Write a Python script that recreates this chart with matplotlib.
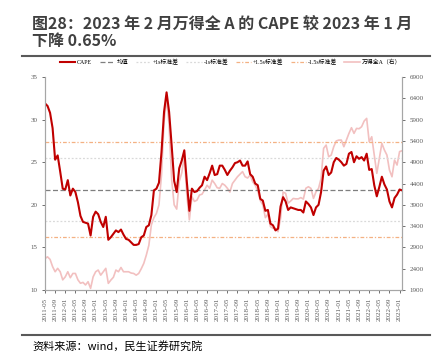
import matplotlib
matplotlib.use("Agg")
import matplotlib.pyplot as plt

plt.rcParams['font.family'] = ['Liberation Serif', 'Noto Sans CJK SC', 'DejaVu Sans']

# monthly data, 2011-05 .. 2023-02
months = []
y, m = 2011, 5
for _ in range(142):
    months.append(f"{y}-{m:02d}")
    m += 1
    if m > 12:
        m = 1
        y += 1

cape = [31.9, 31.6, 30.8, 29.0, 25.3, 25.8, 23.9, 21.9, 21.8, 22.9,
        21.1, 21.9, 21.5, 20.3, 18.7, 18.0, 17.9, 17.8, 16.4, 18.6,
        19.2, 18.9, 18.0, 17.4, 18.6, 15.9, 16.2, 16.6, 17.0, 16.8,
        17.1, 16.5, 16.0, 15.9, 15.6, 15.3, 15.3, 15.4, 16.2, 16.4,
        17.4, 17.6, 18.8, 21.7, 21.9, 22.6, 26.2, 30.9, 33.2, 30.9,
        27.0, 22.8, 21.5, 24.3, 25.2, 26.4, 22.7, 19.3, 21.9, 21.5,
        21.6, 22.0, 22.3, 23.3, 22.9, 23.7, 24.6, 23.5, 23.6, 24.6,
        24.6, 24.1, 23.5, 24.0, 24.4, 24.9, 25.0, 25.2, 24.6, 24.6,
        25.1, 23.6, 23.3, 22.5, 22.3, 20.7, 20.5, 19.3, 19.4, 17.8,
        17.6, 17.0, 17.2, 19.8, 20.9, 20.4, 19.4, 19.7, 19.6, 19.5,
        19.4, 19.4, 19.1, 20.4, 20.1, 19.7, 18.8, 19.7, 20.0, 21.5,
        24.0, 24.5, 23.5, 23.8, 25.0, 25.5, 25.3, 25.0, 24.6, 24.8,
        26.0, 26.2, 25.0, 25.7, 25.4, 25.6, 25.2, 26.0, 24.1, 24.2,
        22.3, 21.0, 22.1, 23.3, 22.4, 21.8, 20.4, 19.7, 20.8, 21.2,
        21.8, 21.7]

wind_a = [2640, 2680, 2620, 2450, 2330, 2410, 2330, 2140, 2210, 2330,
          2190, 2290, 2290, 2140, 2060, 2080, 2020, 2096, 1940, 2210,
          2330, 2370, 2250, 2330, 2410, 2057, 2135, 2200, 2370, 2330,
          2430, 2330, 2330, 2330, 2300, 2290, 2250, 2290, 2400, 2526,
          2720, 2950, 3430, 3600, 3700, 3900, 4600, 5850, 6400, 5770,
          4500, 3900, 3800, 4450, 4650, 5050, 4130, 3550, 4090, 3980,
          4010, 4130, 4150, 4250, 4360, 4290, 4480, 4400, 4300, 4290,
          4400, 4360, 4290, 4200, 4400, 4480, 4560, 4620, 4680, 4560,
          4530, 4600, 4440, 4360, 4230, 4000, 3900, 3600, 3680, 3390,
          3350, 3350, 3270, 3580, 4200, 4170, 3940, 3990, 4050, 4040,
          4040, 4070, 4035, 4290, 4325, 4286, 4051, 4207, 4286, 4520,
          5226, 5303, 5029, 5068, 5264, 5400, 5420, 5420, 5264, 5420,
          5577, 5710, 5577, 5694, 5686, 5733, 5866, 5929, 5381, 5498,
          5068, 4638, 4991, 5342, 5186, 5068, 4716, 4559, 4951, 4834,
          5150, 5170]

cape_mean = 21.8
cape_std = 3.7

x = list(range(len(months)))

fig = plt.figure(figsize=(4.39, 3.59), dpi=100)
ax = fig.add_axes([0.1025, 0.192, 0.8135, 0.5935])
ax2 = ax.twinx()

ax.axhline(cape_mean, color="#7f7f7f", lw=0.9, ls=(0, (4, 2)), label="均值")
ax.axhline(cape_mean + cape_std, color="#d9d9d9", lw=0.9, ls=(0, (1.5, 1.5)), label="+1s标准差")
ax.axhline(cape_mean - cape_std, color="#d9d9d9", lw=0.9, ls=(0, (1.5, 1.5)), label="-1s标准差")
ax.axhline(cape_mean + 1.5 * cape_std, color="#f4b183", lw=0.9, ls=(0, (3, 1.5, 1, 1.5)), label="+1.5s标准差")
ax.axhline(cape_mean - 1.5 * cape_std, color="#f4b183", lw=0.9, ls=(0, (3, 1.5, 1, 1.5)), label="-1.5s标准差")
l2, = ax2.plot(x, wind_a, color="#f2c0c0", lw=1.2, label="万得全A（右）")
l1, = ax.plot(x, cape, color="#c00000", lw=1.5, label="CAPE")
ax.set_zorder(ax2.get_zorder() + 1)
ax.patch.set_visible(False)

ax.set_xlim(0, 141)
ax.set_ylim(10, 35)
ax2.set_ylim(1900, 6900)
ax.set_yticks(range(10, 36, 5))
ax2.set_yticks(range(1900, 6901, 500))
ax.set_xticks(x[::4])
ax.set_xticklabels(months[::4], rotation=90)

for a in (ax, ax2):
    a.tick_params(labelsize=5, length=2, width=0.6, colors="#595959", direction="out")
    for s in a.spines.values():
        s.set_color("#a6a6a6")
        s.set_linewidth(0.8)
    a.spines["top"].set_visible(False)

handles = [l1] + ax.get_lines()[:5] + [l2]
fig.legend(handles, [h.get_label() for h in handles], loc="center",
           bbox_to_anchor=(0.525, 0.828), ncol=7, frameon=False, fontsize=4.2,
           handlelength=2.6, columnspacing=1.3, handletextpad=0.3)

fig.text(0.073, 0.955, "图28：2023 年 2 月万得全 A 的 CAPE 较 2023 年 1 月\n下降 0.65%",
         fontsize=11.5, fontweight="bold", color="#404040", va="top", ha="left",
         family=["Noto Sans CJK SC", "DejaVu Sans"], linespacing=1.05)
fig.add_artist(plt.Line2D([0.05, 0.98], [0.843, 0.843], color="#595959", lw=1.5))
fig.add_artist(plt.Line2D([0.05, 0.98], [0.067, 0.067], color="#595959", lw=1.5))
fig.text(0.073, 0.036, "资料来源：wind，民生证券研究院", fontsize=8, color="#000000",
         va="center", ha="left", family=["Noto Sans CJK SC", "DejaVu Sans"])

fig.savefig("out.png", dpi=100)
